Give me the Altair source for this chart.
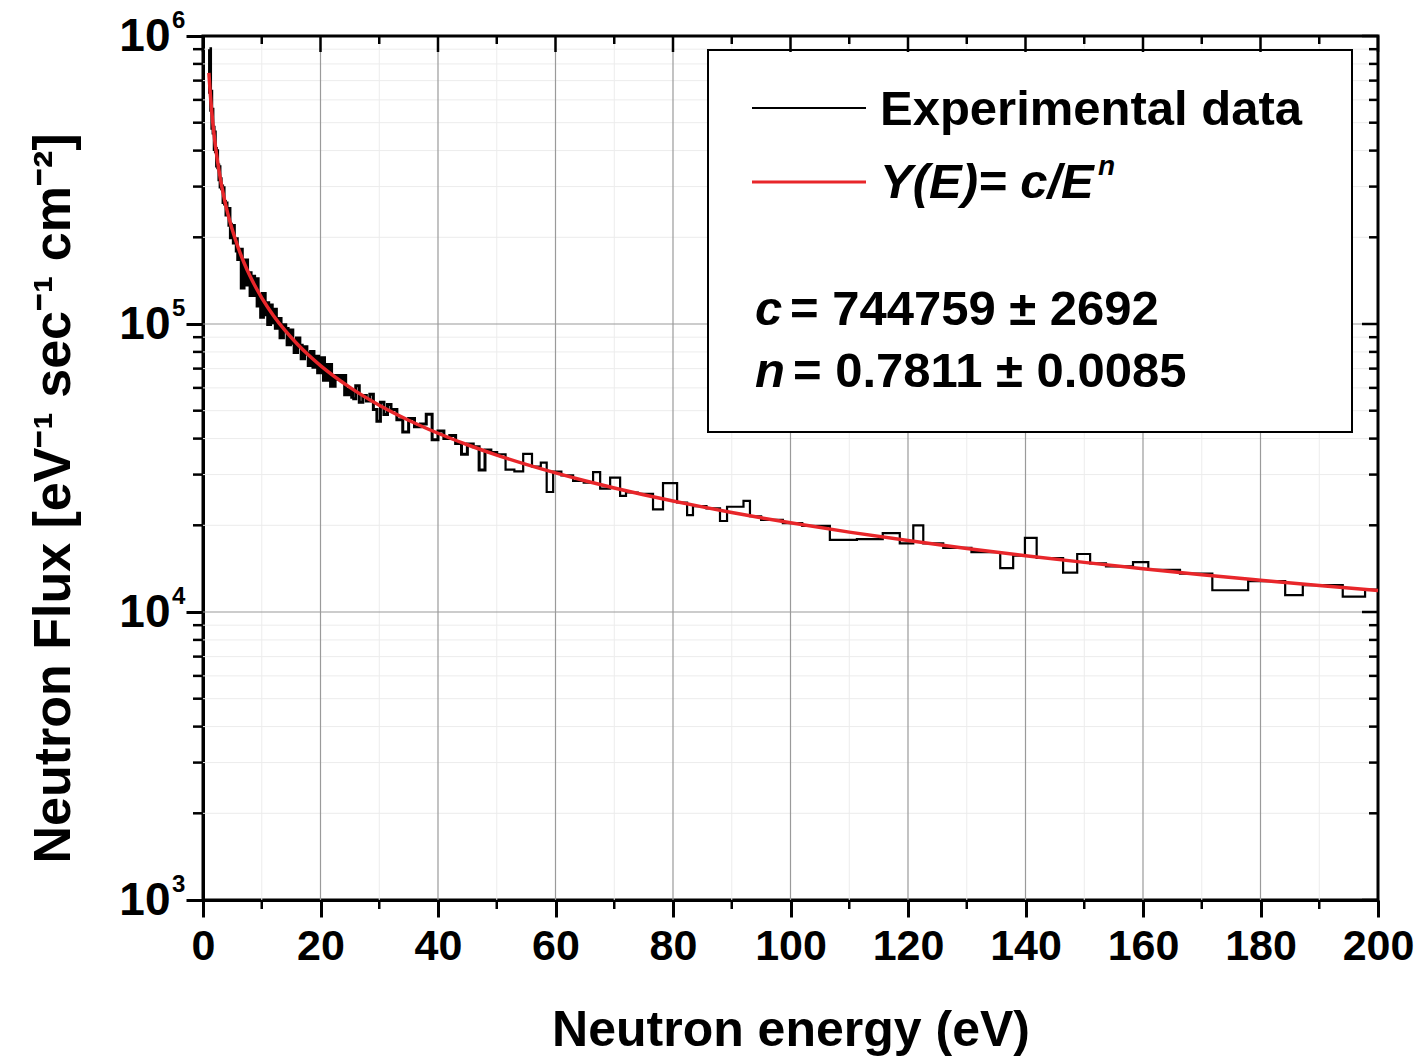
import altair as alt
import pandas as pd

# ---------------- data ----------------
bin_edges_eV = [
    1.1, 1.2, 1.4, 1.6, 1.8, 2.0, 2.2, 2.4, 2.6, 2.8,
    3.0, 3.25, 3.5, 3.75, 4.0, 4.25, 4.5, 4.75, 5.0, 5.25, 5.5, 5.75,
    6.0, 6.3, 6.6, 6.9, 7.2, 7.5, 7.8, 8.1, 8.4, 8.7, 9.0, 9.3, 9.6, 9.9, 10.2, 10.5, 10.8, 11.1, 11.4, 11.7,
    12.0, 12.4, 12.8, 13.2, 13.6, 14.0, 14.4, 14.8, 15.2, 15.6, 16.0, 16.4, 16.8, 17.2, 17.6, 18.0, 18.4, 18.8, 19.2, 19.6,
    20.0, 20.6, 21.2, 21.8, 22.4, 23.0, 23.6, 24.2, 24.8, 25.4, 26.0, 26.6, 27.2, 27.8, 28.4, 29.0, 29.6, 30.2, 30.8, 31.4,
    32, 33, 34, 35, 36, 37, 38, 39, 40, 41, 42, 43, 44, 45, 46, 47, 48, 49,
    50, 51.5, 53, 54.5, 56, 57.5, 58.5, 59.6, 61, 63, 64.8, 66.4, 67.6, 69.3, 71, 72, 74, 76.6, 78.3, 80.7,
    82.4, 83.4, 85.7, 88, 89.2, 92, 93.1,
    95, 98.7, 102, 106.7, 111.3, 115.7, 118.6, 120.9, 122.6, 126, 130.8, 135.7, 137.9, 139.9, 141.9, 146.4,
    148.8, 151, 153.7, 158.3, 160.9, 166.3, 171.8, 177.9, 184.2, 187.2, 194, 197.8,
    200,
]
flux_values = [
    900000, 640000, 555000, 480000, 462000, 405000, 398000, 355000, 350000, 318000,
    300000, 296000, 265000, 262000, 240000, 251000, 221000, 200000, 219000, 192000, 197000, 180000,
    168000, 181000, 134000, 157000, 166000, 137000, 150000, 126000, 146000, 126000, 143000, 116000, 126000, 106000,
    127000, 108000, 118000, 100000, 116000, 101500,
    112000, 97000, 104000, 90000, 99000, 96000, 85000, 95000, 86000, 80000, 89000, 84000, 76000, 83000, 79000,
    72000, 80000, 71000, 77000, 68000,
    76000, 64000, 72000, 61000, 66000, 64500, 66000, 57000, 59000, 55000, 61000, 53500, 56500, 54000, 57000,
    50500, 46000, 53500, 48500, 52500,
    50500, 46500, 42200, 47000, 44000, 45000, 48600, 39600, 42500, 40000, 41000, 38500, 35300, 38300, 37500,
    31100, 36500, 35800,
    35300, 31200, 30800, 35400, 32000, 33000, 26100, 30700, 29800, 28500, 28100, 30600, 26800, 29300, 25300,
    26000, 25700, 22700, 28000, 24000, 21700, 23300, 22900, 20700, 23200, 24300, 21500,
    20900, 20350, 19900, 17800, 17900, 18800, 17300, 20000, 17300, 16700, 16150, 14200, 15700, 18100, 15400,
    13700, 15900, 14750, 14400, 14900, 14000, 13600, 11900, 12800, 11450, 12400, 11300, 11950,
]

fit_energy_eV = [1, 1.25, 1.5, 1.75, 2, 2.5, 3, 3.5, 4, 4.5, 5, 6, 7, 8, 9, 10, 12, 14, 16, 18, 20,
                 25, 30, 35, 40, 45, 50, 55, 60, 65, 70, 75, 80, 85, 90, 95, 100,
                 110, 120, 130, 140, 150, 160, 170, 180, 190, 200]
fit_flux = [744759, 625650, 542600, 481020, 433400, 364100, 315760, 279930, 252200, 230040, 211880,
            183750, 162900, 146750, 133850, 123300, 106900, 94790, 85410, 77900, 71740,
            60270, 52260, 46340, 41750, 38080, 35065, 32550, 30410, 28570, 26965, 25550, 24290,
            23170, 22160, 21240, 20410, 18940, 17700, 16625, 15690, 14870, 14140, 13480, 12900,
            12360, 11880]

x_major_ticks = [0, 20, 40, 60, 80, 100, 120, 140, 160, 180, 200]
x_minor_ticks = [10, 30, 50, 70, 90, 110, 130, 150, 170, 190]
x_grid_major = [20, 40, 60, 80, 100, 120, 140, 160, 180]
y_major_ticks = [1000, 10000, 100000, 1000000]
y_grid_major = [10000, 100000]
y_minor_ticks = [2000, 3000, 4000, 5000, 6000, 7000, 8000, 9000,
                 20000, 30000, 40000, 50000, 60000, 70000, 80000, 90000,
                 200000, 300000, 400000, 500000, 600000, 700000, 800000, 900000]
y_exponents = ["3", "4", "5", "6"]

legend_labels = ["Experimental data", "Y(E)= c/E"]
fit_c_text = "= 744759 ± 2692"
fit_n_text = "= 0.7811 ± 0.0085"

# ---------------- chart ----------------
W, H = 1175, 864
FONT = "Liberation Sans"
RED = "#e8262a"
xs = alt.Scale(domain=[0, 200], nice=False, zero=False)
ys = alt.Scale(type="log", domain=[1000, 1000000], nice=False)

X_AX = alt.Axis(
    values=x_major_ticks, title="Neutron energy (eV)", grid=False,
    labelFlush=False, labelOverlap=False, labelBound=False,
    tickSize=17, tickWidth=3, tickColor="black", domainColor="black", domainWidth=3,
    labelFont=FONT, labelFontSize=43, labelFontWeight="bold", labelColor="black", labelPadding=8,
    titleFont=FONT, titleFontSize=50, titleFontWeight="bold", titleColor="black",
    titleX=W / 2, titleY=130, titleBaseline="middle", titleAlign="center")
Y_AX = alt.Axis(
    values=y_major_ticks, labelExpr="'10'", title="Neutron Flux [eV⁻¹ sec⁻¹ cm⁻²]", grid=False,
    labelFlush=False, labelOverlap=False, labelBound=False,
    tickSize=17, tickWidth=3, tickColor="black", domainColor="black", domainWidth=3,
    labelFont=FONT, labelFontSize=46, labelFontWeight="bold", labelColor="black", labelPadding=16,
    titleFont=FONT, titleFontSize=52, titleFontWeight="bold", titleColor="black",
    titleX=-150, titleY=462, titleBaseline="middle", titleAlign="center")

n_dense = bin_edges_eV.index(25.4)
n_mid = bin_edges_eV.index(50)
hist_x = bin_edges_eV
hist_y = flux_values + [flux_values[-1]]
hist_parts = [
    (pd.DataFrame({"E": hist_x[:n_dense + 1], "flux": hist_y[:n_dense + 1]}), 4.0),
    (pd.DataFrame({"E": hist_x[n_dense:n_mid + 1], "flux": hist_y[n_dense:n_mid + 1]}), 3.0),
    (pd.DataFrame({"E": hist_x[n_mid:], "flux": hist_y[n_mid:]}), 2.2),
]
fit = pd.DataFrame({"E": fit_energy_eV, "flux": fit_flux})
one = pd.DataFrame({"a": [0]})


def vrules(vals, y0, y1, color, width):
    return alt.Chart(pd.DataFrame({"v": vals})).mark_rule(color=color, strokeWidth=width).encode(
        x=alt.X("v:Q", scale=xs, axis=X_AX), y=alt.value(y0), y2=alt.value(y1))


def hrules(vals, x0, x1, color, width):
    return alt.Chart(pd.DataFrame({"v": vals})).mark_rule(color=color, strokeWidth=width).encode(
        y=alt.Y("v:Q", scale=ys, axis=Y_AX), x=alt.value(x0), x2=alt.value(x1))


def label(text, x, y, size=49, style="normal", color="black", align="left"):
    return alt.Chart(one).mark_text(
        font=FONT, fontSize=size, fontWeight="bold", fontStyle=style, color=color,
        align=align, baseline="middle").encode(x=alt.value(x), y=alt.value(y), text=alt.value(text))


minor_grid = alt.layer(
    vrules(x_minor_ticks, 0, H, "#ececec", 1),
    hrules(y_minor_ticks, 0, W, "#ececec", 1),
)
major_grid = alt.layer(
    vrules(x_grid_major, 0, H, "#9a9a9a", 1.2),
    hrules(y_grid_major, 0, W, "#9a9a9a", 1.2),
)

hist_lines = alt.layer(*[
    alt.Chart(df).mark_line(interpolate="step-after", color="black", strokeWidth=sw).encode(
        x=alt.X("E:Q", scale=xs, axis=X_AX),
        y=alt.Y("flux:Q", scale=ys, axis=Y_AX),
    ) for df, sw in hist_parts
])

fit_line = alt.Chart(fit).mark_line(color=RED, strokeWidth=3.5, interpolate="monotone").encode(
    x=alt.X("E:Q", scale=xs, axis=X_AX), y=alt.Y("flux:Q", scale=ys, axis=Y_AX))

legend_box = alt.Chart(one).mark_rect(fill="white", stroke="black", strokeWidth=2).encode(
    x=alt.value(505), x2=alt.value(1149), y=alt.value(14), y2=alt.value(396))
legend_black = alt.Chart(one).mark_rule(color="black", strokeWidth=2).encode(
    x=alt.value(549), x2=alt.value(663), y=alt.value(72))
legend_red = alt.Chart(one).mark_rule(color=RED, strokeWidth=3).encode(
    x=alt.value(549), x2=alt.value(663), y=alt.value(146))

legend_texts = alt.layer(
    label(legend_labels[0], 677, 74),
    label(legend_labels[1], 677, 147, style="italic"),
    label("n", 895, 131, size=28, style="italic"),
    label("c", 552, 274, style="italic"),
    label(fit_c_text, 587, 274),
    label("n", 552, 336, style="italic"),
    label(fit_n_text, 590, 336),
)

ticks = alt.layer(
    vrules(x_minor_ticks, H, H + 9, "black", 2.5),
    vrules(x_major_ticks, 0, 16, "black", 2.5),
    vrules(x_minor_ticks, 0, 8, "black", 2.5),
    hrules(y_minor_ticks, 0, -10, "black", 2.5),
    hrules(y_major_ticks, W, W - 16, "black", 2.5),
    hrules(y_minor_ticks, W, W - 9, "black", 2.5),
)

exponents = alt.Chart(pd.DataFrame({"v": y_major_ticks, "e": y_exponents})).mark_text(
    font=FONT, fontSize=24, fontWeight="bold", color="black", align="left", baseline="alphabetic", dy=-8
).encode(y=alt.Y("v:Q", scale=ys, axis=Y_AX), x=alt.value(-31), text="e:N")

chart = alt.layer(
    minor_grid, major_grid, hist_lines, fit_line,
    legend_box, legend_black, legend_red, legend_texts, ticks, exponents,
).properties(
    width=W, height=H,
    autosize=alt.AutoSizeParams(type="none"),
    padding={"left": 203, "top": 36, "right": 42, "bottom": 163},
).configure_view(stroke="black", strokeWidth=3)

chart.save("out.html", embed_options={"renderer": "svg", "actions": False})
